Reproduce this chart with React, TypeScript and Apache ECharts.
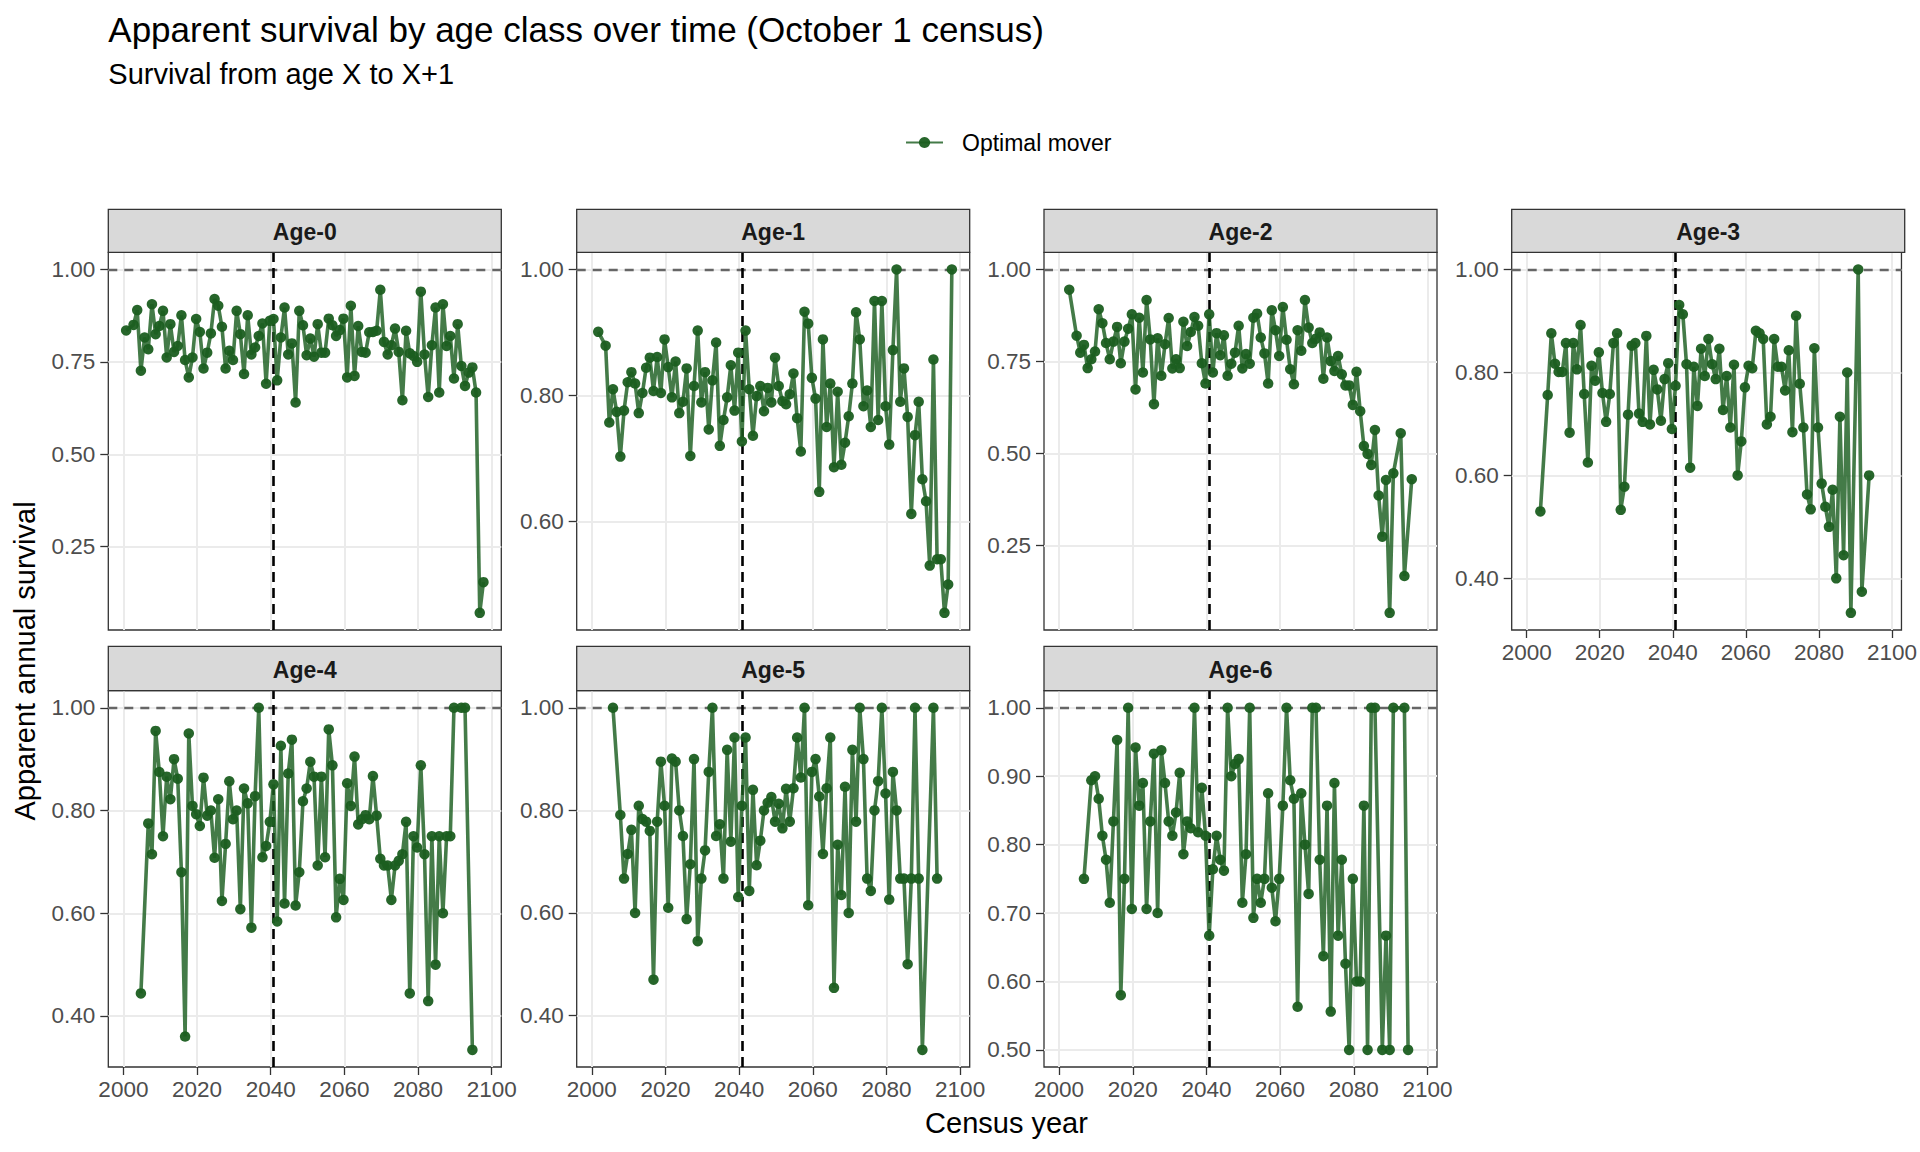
import React, { useEffect, useRef } from "react";
import * as echarts from "echarts";

// ---------------- DATA ----------------
const PANEL_NAMES = ["Age-0", "Age-1", "Age-2", "Age-3", "Age-4", "Age-5", "Age-6"];
// first census year of each age class series (one value per year after that, null = no estimate)
const START_YEARS = [2000, 2001, 2002, 2003, 2004, 2005, 2006];
const CENSUS_OFFSET = 0.75; // October 1 census as decimal year
const CUTOFF_YEAR = 2040;
const SERIES_NAME = "Optimal mover";

const SURV_AGE0 = [
  0.835, null, 0.85, 0.89, 0.726, 0.816, 0.784, 0.906, 0.825, 0.847, 0.888,
  0.762, 0.852, 0.777, 0.793, 0.876, 0.755, 0.708, 0.762, 0.866, 0.831,
  0.732, 0.775, 0.827, 0.92, 0.902, 0.845, 0.732, 0.78, 0.755, 0.888,
  0.825, 0.717, 0.876, 0.77, 0.789, 0.82, 0.854, 0.691, 0.861, 0.866,
  0.7, 0.816, 0.897, 0.77, 0.8, 0.64, 0.888, 0.849, 0.768, 0.813,
  0.764, 0.852, 0.775, 0.775, 0.867, 0.849, 0.82, 0.836, 0.867, 0.708,
  0.902, 0.712, 0.847, 0.777, 0.775, 0.83, 0.831, 0.834, 0.945, 0.804,
  0.77, 0.795, 0.84, 0.777, 0.646, 0.834, 0.773, 0.766, 0.75, 0.94,
  0.77, 0.655, 0.795, 0.897, 0.667, 0.906, 0.793, 0.82, 0.705, 0.852,
  0.739, 0.685, 0.721, 0.735, 0.667, 0.071, 0.154,
];
const SURV_AGE1 = [
  0.901, null, 0.879, 0.757, 0.81, 0.774, 0.703, 0.776, 0.821, 0.837, 0.819,
  0.772, 0.804, 0.844, 0.86, 0.807, 0.861, 0.804, 0.889, 0.845, 0.797,
  0.854, 0.772, 0.79, 0.843, 0.704, 0.815, 0.903, 0.789, 0.837, 0.746,
  0.824, 0.884, 0.72, 0.761, 0.797, 0.848, 0.776, 0.868, 0.727, 0.903,
  0.81, 0.736, 0.799, 0.815, 0.775, 0.812, 0.789, 0.86, 0.815, 0.791,
  0.786, 0.802, 0.835, 0.764, 0.711, 0.933, 0.914, 0.828, 0.795, 0.647,
  0.889, 0.75, 0.819, 0.686, 0.806, 0.69, 0.725, 0.767, 0.819, 0.932,
  0.889, 0.783, 0.808, 0.75, 0.95, 0.761, 0.95, 0.783, 0.722, 0.872,
  1.0, 0.79, 0.843, 0.766, 0.612, 0.737, 0.79, 0.667, 0.632, 0.53,
  0.857, 0.54, 0.54, 0.455, 0.5, 1.0,
];
const SURV_AGE2 = [
  0.945, null, 0.82, 0.774, 0.795, 0.732, 0.756, 0.777, 0.892, 0.854, 0.8,
  0.756, 0.804, 0.844, 0.745, 0.804, 0.839, 0.878, 0.674, 0.869, 0.72,
  0.917, 0.81, 0.634, 0.813, 0.711, 0.797, 0.868, 0.731, 0.756, 0.732,
  0.858, 0.792, 0.83, 0.871, 0.847, 0.745, 0.69, 0.878, 0.72, 0.827,
  0.767, 0.821, 0.711, 0.744, 0.774, 0.847, 0.731, 0.77, 0.744, 0.869,
  0.88, 0.815, 0.772, 0.69, 0.889, 0.835, 0.765, 0.898, 0.809, 0.729,
  0.688, 0.835, 0.779, 0.917, 0.842, 0.8, 0.812, 0.829, 0.703, 0.815,
  0.751, 0.724, 0.765, 0.715, 0.685, 0.685, 0.632, 0.722, 0.615, 0.52,
  0.499, 0.469, 0.564, 0.386, 0.274, 0.428, 0.067, 0.446, null, 0.555, 0.167, null, 0.43,
];
const SURV_AGE3 = [
  0.53, null, 0.756, 0.876, 0.817, 0.801, 0.801, 0.857, 0.683, 0.857, 0.806,
  0.892, 0.758, 0.625, 0.813, 0.784, 0.839, 0.76, 0.704, 0.758, 0.857,
  0.876, 0.533, 0.578, 0.718, 0.852, 0.857, 0.72, 0.704, 0.871, 0.699,
  0.805, 0.767, 0.706, 0.787, 0.818, 0.69, 0.774, 0.931, 0.913, 0.816,
  0.615, 0.811, 0.735, 0.846, 0.793, 0.865, 0.816, 0.787, 0.846, 0.727,
  0.793, 0.693, 0.815, 0.6, 0.666, 0.771, 0.813, 0.808, 0.881, 0.876,
  0.865, 0.699, 0.714, 0.865, 0.811, 0.811, 0.765, 0.843, 0.684, 0.91,
  0.778, 0.693, 0.563, 0.534, 0.847, 0.693, 0.584, 0.539, 0.5, 0.572,
  0.4, 0.714, 0.445, 0.8, 0.333, null, 1.0, 0.374, null, 0.6,
];
const SURV_AGE4 = [
  0.444, null, 0.775, 0.715, 0.955, 0.875, 0.75, 0.866, 0.822, 0.9, 0.862,
  0.68, 0.36, 0.95, 0.809, 0.793, 0.77, 0.864, 0.79, 0.8, 0.708,
  0.822, 0.624, 0.735, 0.857, 0.783, 0.8, 0.608, 0.843, 0.814, 0.572,
  0.828, 1.0, 0.709, 0.731, 0.778, 0.851, 0.584, 0.926, 0.619, 0.872,
  0.938, 0.615, 0.68, 0.818, 0.843, 0.895, 0.866, 0.693, 0.866, 0.709,
  0.958, 0.888, 0.592, 0.667, 0.626, 0.853, 0.809, 0.905, 0.773, 0.783,
  0.791, 0.783, 0.867, 0.79, 0.706, 0.693, 0.693, 0.626, 0.693, 0.702,
  0.715, 0.778, 0.444, 0.75, 0.728, 0.888, 0.715, 0.429, 0.75, 0.5,
  0.75, 0.6, 0.75, 0.75, 1.0, null, 1.0, 1.0, null, 0.334,
];
const SURV_AGE5 = [
  1.0, null, 0.791, 0.667, 0.715, 0.762, 0.6, 0.809, 0.783, 0.778, 0.76,
  0.47, 0.778, 0.895, 0.809, 0.61, 0.901, 0.895, 0.8, 0.75, 0.588,
  0.695, 0.9, 0.545, 0.667, 0.722, 0.875, 1.0, 0.75, 0.773, 0.667,
  0.918, 0.739, 0.942, 0.631, 0.809, 0.942, 0.643, 0.84, 0.693, 0.741,
  0.8, 0.815, 0.826, 0.778, 0.813, 0.765, 0.842, 0.778, 0.843, 0.942,
  0.864, 1.0, 0.615, 0.875, 0.9, 0.827, 0.715, 0.843, 0.942, 0.454,
  0.733, 0.635, 0.846, 0.6, 0.918, 0.778, 1.0, 0.9, 0.667, 0.643,
  0.8, 0.857, 1.0, 0.833, 0.626, 0.875, 0.8, 0.667, 0.667, 0.5,
  0.667, 1.0, 0.667, 0.333, null, null, 1.0, 0.667,
];
const SURV_AGE6 = [
  0.75, null, 0.894, 0.9, 0.867, 0.813, 0.778, 0.715, 0.834, 0.953, 0.58,
  0.75, 1.0, 0.706, 0.942, 0.857, 0.89, 0.706, 0.834, 0.933, 0.7,
  0.938, 0.89, 0.834, 0.813, 0.847, 0.905, 0.786, 0.834, 0.824, 1.0,
  0.818, 0.883, 0.813, 0.667, 0.764, 0.813, 0.778, 0.762, 1.0, 0.9,
  0.918, 0.925, 0.715, 0.786, 1.0, 0.693, 0.75, 0.715, 0.75, 0.875,
  0.737, 0.688, 0.75, 0.857, 1.0, 0.894, 0.867, 0.563, 0.875, 0.8,
  0.728, 1.0, 1.0, 0.778, 0.637, 0.857, 0.556, 0.89, 0.667, 0.778,
  0.626, 0.5, 0.75, 0.6, 0.6, 0.857, 0.5, 1.0, 1.0, null,
  0.5, 0.667, 0.5, 1.0, null, null, 1.0, 0.5,
];
const SURVIVAL = [SURV_AGE0, SURV_AGE1, SURV_AGE2, SURV_AGE3, SURV_AGE4, SURV_AGE5, SURV_AGE6];

const X_TICKS = [2000, 2020, 2040, 2060, 2080, 2100];
const Y_TICKS = [
  [0.25, 0.5, 0.75, 1.0],
  [0.6, 0.8, 1.0],
  [0.25, 0.5, 0.75, 1.0],
  [0.4, 0.6, 0.8, 1.0],
  [0.4, 0.6, 0.8, 1.0],
  [0.4, 0.6, 0.8, 1.0],
  [0.5, 0.6, 0.7, 0.8, 0.9, 1.0],
];
const REFERENCE_SURVIVAL = 1.0;

const TITLE = "Apparent survival by age class over time (October 1 census)";
const SUBTITLE = "Survival from age X to X+1";
const X_TITLE = "Census year";
const Y_TITLE = "Apparent annual survival";

// ---------------- LAYOUT / STYLE ----------------
const FONT = '"Liberation Sans", Arial, Helvetica, sans-serif';
const COL_LEFT = [108.3, 576.7, 1044, 1511.7];
const PANEL_W = 393;
const ROW_TOP = [252.3, 690.7];
const ROW_H = [377.7, 376.3];
const STRIP_TOP = [209.3, 646.3];
const GREEN_POINT = "#1b5e20";
const GREEN_LINE = "rgba(27,94,32,0.82)";

function buildOption() {
  const seriesPoints = SURVIVAL.map((vals, p) =>
    vals
      .map((v, i) => (v === null ? null : [START_YEARS[p] + i + CENSUS_OFFSET, v]))
      .filter((d) => d !== null)
  );
  const allX = seriesPoints.flat().map((d: any) => d[0]);
  const xLo = Math.min(...allX);
  const xHi = Math.max(...allX);
  const xPad = (xHi - xLo) * 0.05;
  const X_MIN = xLo - xPad;
  const X_MAX = xHi + xPad;

  const grids: any[] = [];
  const xAxes: any[] = [];
  const yAxes: any[] = [];
  const series: any[] = [];
  const graphics: any[] = [];

  PANEL_NAMES.forEach((name, p) => {
    const row = Math.floor(p / 4);
    const col = p % 4;
    const left = COL_LEFT[col];
    const top = ROW_TOP[row];
    const height = ROW_H[row];
    const ys = seriesPoints[p].map((d: any) => d[1]);
    const lo = Math.min(...ys, REFERENCE_SURVIVAL);
    const hi = Math.max(...ys, REFERENCE_SURVIVAL);
    const pad = (hi - lo) * 0.05;
    const showX = p >= 3;

    grids.push({
      left,
      top,
      width: PANEL_W,
      height,
      containLabel: false,
      show: true,
      backgroundColor: "#ffffff",
      borderColor: "#333333",
      borderWidth: 1.3,
    });
    xAxes.push({
      type: "value",
      gridIndex: p,
      min: X_MIN,
      max: X_MAX,
      axisLine: { show: false, onZero: false },
      axisTick: {
        show: showX,
        customValues: X_TICKS,
        length: 8,
        lineStyle: { color: "#333333", width: 1.3 },
      },
      axisLabel: {
        show: showX,
        customValues: X_TICKS,
        fontSize: 22.5,
        fontFamily: FONT,
        color: "#4d4d4d",
        margin: 11,
        formatter: (v: number) => String(Math.round(v)),
      },
      splitLine: { show: true, lineStyle: { color: "#ebebeb", width: 2 } },
    });
    yAxes.push({
      type: "value",
      gridIndex: p,
      min: lo - pad,
      max: hi + pad,
      axisLine: { show: false, onZero: false },
      axisTick: {
        show: true,
        customValues: Y_TICKS[p],
        length: 8,
        lineStyle: { color: "#333333", width: 1.3 },
      },
      axisLabel: {
        show: true,
        customValues: Y_TICKS[p],
        fontSize: 22.5,
        fontFamily: FONT,
        color: "#4d4d4d",
        margin: 13,
        formatter: (v: number) => v.toFixed(2),
      },
      splitLine: { show: true, lineStyle: { color: "#ebebeb", width: 2 } },
    });
    series.push({
      type: "line",
      name: SERIES_NAME,
      xAxisIndex: p,
      yAxisIndex: p,
      data: seriesPoints[p],
      symbol: "circle",
      symbolSize: 10.5,
      itemStyle: { color: GREEN_POINT, opacity: 0.95 },
      lineStyle: { color: GREEN_LINE, width: 3.6 },
      z: 3,
      silent: true,
      emphasis: { disabled: true },
      markLine: {
        silent: true,
        z: 2,
        symbol: ["none", "none"],
        label: { show: false },
        animation: false,
        data: [
          { yAxis: REFERENCE_SURVIVAL, lineStyle: { color: "#666666", type: [9, 7], width: 2.4 } },
          { xAxis: CUTOFF_YEAR + CENSUS_OFFSET, lineStyle: { color: "#000000", type: [10, 6], width: 2.6 } },
        ],
      },
    });

    graphics.push({
      type: "rect",
      silent: true,
      z: 10,
      shape: { x: left, y: STRIP_TOP[row], width: PANEL_W, height: top - STRIP_TOP[row] },
      style: { fill: "#d9d9d9", stroke: "#333333", lineWidth: 1.3 },
    });
    graphics.push({
      type: "text",
      silent: true,
      z: 11,
      x: left + PANEL_W / 2,
      y: (STRIP_TOP[row] + top) / 2 + 1,
      style: {
        text: name,
        fontSize: 23,
        fontWeight: "bold",
        fontFamily: FONT,
        fill: "#1a1a1a",
        align: "center",
        verticalAlign: "middle",
      },
    });
  });

  graphics.push({
    type: "text",
    silent: true,
    x: 108.3,
    y: 29.5,
    style: { text: TITLE, fontSize: 35, fontFamily: FONT, fill: "#000000", align: "left", verticalAlign: "middle" },
  });
  graphics.push({
    type: "text",
    silent: true,
    x: 108.3,
    y: 73.5,
    style: { text: SUBTITLE, fontSize: 29, fontFamily: FONT, fill: "#000000", align: "left", verticalAlign: "middle" },
  });
  graphics.push({
    type: "text",
    silent: true,
    x: (COL_LEFT[0] + COL_LEFT[3] + PANEL_W) / 2,
    y: 1122.5,
    style: { text: X_TITLE, fontSize: 29, fontFamily: FONT, fill: "#000000", align: "center", verticalAlign: "middle" },
  });
  graphics.push({
    type: "text",
    silent: true,
    x: 24.5,
    y: 661,
    rotation: Math.PI / 2,
    style: { text: Y_TITLE, fontSize: 29, fontFamily: FONT, fill: "#000000", align: "center", verticalAlign: "middle" },
  });

  return {
    animation: false,
    backgroundColor: "#ffffff",
    textStyle: { fontFamily: FONT },
    legend: {
      data: [SERIES_NAME],
      left: 905,
      top: 131,
      padding: 0,
      itemWidth: 37,
      itemHeight: 14,
      selectedMode: false,
      textStyle: { fontSize: 23, color: "#000000", fontFamily: FONT, padding: [0, 0, 0, 14] },
    },
    grid: grids,
    xAxis: xAxes,
    yAxis: yAxes,
    series,
    graphic: graphics,
  };
}

export default function App() {
  const ref = useRef<HTMLDivElement>(null);
  useEffect(() => {
    if (!ref.current) return;
    const chart = echarts.init(ref.current, null, { renderer: "svg" });
    chart.setOption(buildOption() as any);
    return () => chart.dispose();
  }, []);
  return (
    <div
      ref={ref}
      style={{ position: "absolute", left: 0, top: 0, width: 1920, height: 1152, background: "#ffffff" }}
    />
  );
}
